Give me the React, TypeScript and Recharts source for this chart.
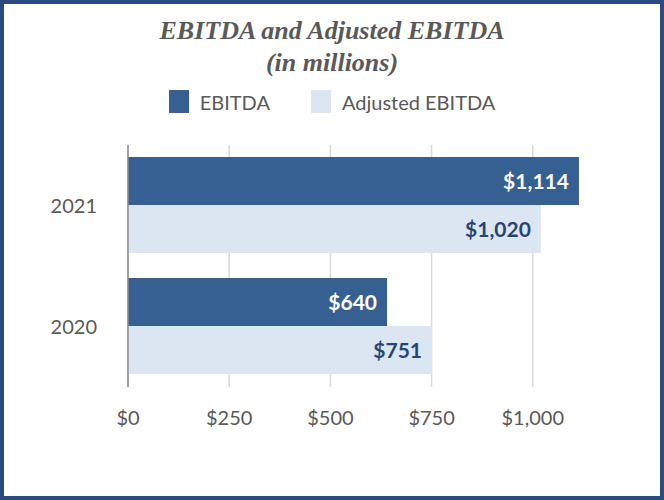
import { BarChart, Bar, XAxis, YAxis, CartesianGrid, LabelList } from "recharts";

const years = ["2021", "2020"];
const ebitda = [1114, 640];
const adjustedEbitda = [1020, 751];
const xTicks = [0, 250, 500, 750, 1000];

const seriesNames = ["EBITDA", "Adjusted EBITDA"];
const seriesColors = ["#376092", "#DCE6F2"];
const labelColors = ["#FFFFFF", "#254578"];

const data = years.map((year, i) => ({
  year,
  ebitda: ebitda[i],
  adjusted: adjustedEbitda[i],
}));

const money = (v: number) => "$" + v.toLocaleString("en-US");

export default function App() {
  return (
    <div
      style={{
        position: "absolute",
        left: 0,
        top: 0,
        width: 664,
        height: 500,
        background: "#fff",
        fontFamily: "Lato, sans-serif",
      }}
    >
      <div
        style={{
          position: "absolute",
          left: 0,
          top: 15,
          width: 664,
          textAlign: "center",
          fontFamily: "'Liberation Serif', serif",
          fontStyle: "italic",
          fontWeight: "bold",
          fontSize: 26,
          lineHeight: "32px",
          color: "#595959",
        }}
      >
        EBITDA and Adjusted EBITDA
        <br />
        (in millions)
      </div>

      <div
        style={{
          position: "absolute",
          left: 0,
          top: 90,
          width: 664,
          height: 23,
          display: "flex",
          justifyContent: "center",
          alignItems: "center",
          gap: 41,
          fontSize: 20,
          color: "#595959",
        }}
      >
        {seriesNames.map((name, i) => (
          <div key={name} style={{ display: "flex", alignItems: "center" }}>
            <div style={{ width: 20, height: 23, background: seriesColors[i], marginRight: 11 }} />
            <span>{name}</span>
          </div>
        ))}
      </div>

      <div style={{ position: "absolute", left: 0, top: 0 }}>
        <BarChart
          width={664}
          height={500}
          data={data}
          layout="vertical"
          margin={{ top: 145, right: 30, bottom: 83, left: 0 }}
          barCategoryGap="10%"
          barGap={0}
        >
          <CartesianGrid horizontal={false} syncWithTicks stroke="#D9D9D9" strokeWidth={1.5} />
          <XAxis
            type="number"
            domain={[0, 1250]}
            ticks={xTicks}
            tickFormatter={money}
            axisLine={false}
            tickLine={false}
            tickMargin={18}
            height={30}
            tick={{ fill: "#595959", fontSize: 20 }}
          />
          <YAxis
            type="category"
            dataKey="year"
            width={128}
            tickLine={false}
            tickMargin={25}
            axisLine={{ stroke: "#8C8C8C", strokeWidth: 1.5 }}
            tick={{ fill: "#595959", fontSize: 20 }}
          />
          <Bar dataKey="ebitda" fill={seriesColors[0]} isAnimationActive={false}>
            <LabelList
              dataKey="ebitda"
              position="insideRight"
              offset={10}
              formatter={(v: any) => money(Number(v))}
              style={{ fill: labelColors[0], fontWeight: "bold", fontSize: 21 }}
            />
          </Bar>
          <Bar dataKey="adjusted" fill={seriesColors[1]} isAnimationActive={false}>
            <LabelList
              dataKey="adjusted"
              position="insideRight"
              offset={10}
              formatter={(v: any) => money(Number(v))}
              style={{ fill: labelColors[1], fontWeight: "bold", fontSize: 21 }}
            />
          </Bar>
        </BarChart>
      </div>

      <div
        style={{
          position: "absolute",
          left: 0,
          top: 0,
          width: 664,
          height: 500,
          boxSizing: "border-box",
          border: "4px solid #2B4B7E",
          pointerEvents: "none",
        }}
      />
    </div>
  );
}
